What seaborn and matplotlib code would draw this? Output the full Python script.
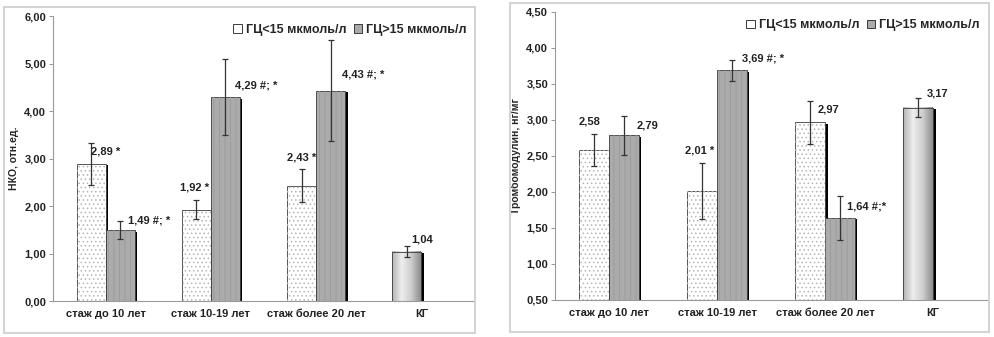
import numpy as np
import pandas as pd
import seaborn as sns
import matplotlib.pyplot as plt
import matplotlib.patheffects as pe
from matplotlib.patches import Rectangle, Patch
from matplotlib.ticker import FuncFormatter, MultipleLocator
from matplotlib.colors import LinearSegmentedColormap

categories = ["стаж до 10 лет", "стаж 10-19 лет", "стаж более 20 лет", "КГ"]
groups = ["ГЦ<15 мкмоль/л", "ГЦ>15 мкмоль/л"]

# НКО, отн.ед.
nko_low = [2.89, 1.92, 2.43, 1.04]
nko_high = [1.49, 4.29, 4.43]
nko_low_err = [0.44, 0.20, 0.34, 0.12]
nko_high_err = [0.19, 0.80, 1.06]
nko_low_labels = ["2,89 *", "1,92 *", "2,43 *", "1,04"]
nko_high_labels = ["1,49 #; *", "4,29 #; *", "4,43 #; *"]

# Тромбомодулин, нг/мг
tm_low = [2.58, 2.01, 2.97, 3.17]
tm_high = [2.79, 3.69, 1.64]
tm_low_err = [0.22, 0.39, 0.30, 0.13]
tm_high_err = [0.27, 0.15, 0.30]
tm_low_labels = ["2,58", "2,01 *", "2,97", "3,17"]
tm_high_labels = ["2,79", "3,69 #; *", "1,64 #;*"]

# label placement relative to bar centre / value: (dx, dy, ha)
nko_low_pos = [(0.0, 0.25, "left"), (-0.02, 0.46, "center"), (0.0, 0.60, "center"), (0.14, 0.26, "center")]
nko_high_pos = [(0.075, 0.21, "left"), (0.09, 0.24, "left"), (0.11, 0.33, "left")]
tm_low_pos = [(-0.04, 0.40, "center"), (-0.02, 0.57, "center"), (0.07, 0.18, "left"), (0.08, 0.20, "left")]
tm_high_pos = [(0.12, 0.14, "left"), (0.09, 0.17, "left"), (0.07, 0.16, "left")]

sns.set_theme(style="white")
plt.rcParams["font.family"] = ["Liberation Sans", "DejaVu Sans"]
plt.rcParams["font.weight"] = "bold"
plt.rcParams["hatch.linewidth"] = 0.6

GRAY = "#ababab"
EDGE = "#3a3a3a"
kg_cmap = LinearSegmentedColormap.from_list("kg", ["#b4b4b4", "#eeeeee", "#cdcdcd", "#8e8e8e"])
shadow = [pe.SimplePatchShadow(offset=(1.8, -1.0), shadow_rgbFace="black", alpha=1.0), pe.Normal()]


def draw_panel(ax, low, high, low_err, high_err, low_labels, high_labels,
               low_pos, high_pos, ylim, step, ylabel):
    df = pd.DataFrame({
        "cat": categories + categories[:len(high)],
        "grp": [groups[0]] * len(low) + [groups[1]] * len(high),
        "val": low + high,
    })
    sns.barplot(data=df, x="cat", y="val", hue="grp", order=categories, hue_order=groups,
                width=0.55, gap=0, errorbar=None, legend=False, ax=ax, zorder=2)
    low_bars, high_bars = ax.containers[0], ax.containers[1]

    for i, p in enumerate(low_bars):
        p.set_edgecolor(EDGE)
        p.set_linewidth(0.6)
        p.set_path_effects(shadow)
        x0, y0, w, h = p.get_x(), p.get_y(), p.get_width(), p.get_height()
        if categories[i] == "КГ":
            p.set_facecolor("white")
            im = ax.imshow(np.linspace(0, 1, 64)[None, :], cmap=kg_cmap, aspect="auto",
                           extent=[x0, x0 + w, max(y0, ylim[0]), y0 + h], zorder=2.05)
            ax.add_patch(Rectangle((x0, y0), w, h, facecolor="none", edgecolor=EDGE,
                                   linewidth=0.6, zorder=2.2))
        else:
            p.set_facecolor("white")
            ax.add_patch(Rectangle((x0, y0), w, h, facecolor="none", edgecolor="#b5b5b5",
                                   hatch="....", linewidth=0, zorder=2.2))
    for p in high_bars:
        p.set_facecolor(GRAY)
        p.set_edgecolor(EDGE)
        p.set_linewidth(0.6)
        p.set_path_effects(shadow)
        ax.add_patch(Rectangle((p.get_x(), p.get_y()), p.get_width(), p.get_height(),
                               facecolor="none", edgecolor="#9a9a9a", hatch="|||",
                               linewidth=0, zorder=2.2))

    for bars, vals, errs, labels, pos in [(low_bars, low, low_err, low_labels, low_pos),
                                          (high_bars, high, high_err, high_labels, high_pos)]:
        xc = [p.get_x() + p.get_width() / 2 for p in bars]
        ax.errorbar(xc, vals, yerr=errs, fmt="none", ecolor="#333333", elinewidth=0.9,
                    capsize=2.5, capthick=0.9, zorder=4)
        for x, v, lab, (dx, dy, ha) in zip(xc, vals, labels, pos):
            ax.text(x + dx, v + dy, lab, ha=ha, va="center", fontsize=8,
                    fontweight="bold", color="#222222", zorder=5)

    ax.set_xlim(-0.5, 3.5)
    ax.set_ylim(*ylim)
    ax.yaxis.set_major_locator(MultipleLocator(step))
    ax.yaxis.set_major_formatter(FuncFormatter(lambda v, _: f"{v:.2f}".replace(".", ",")))
    ax.set_xlabel("")
    ax.set_ylabel(ylabel, fontsize=7.5, fontweight="bold", labelpad=4)
    ax.tick_params(axis="y", labelsize=8, length=3, width=0.6, color="#888888", pad=2,
                   left=True, labelcolor="#222222")
    ax.tick_params(axis="x", labelsize=8, length=0, pad=6, labelcolor="#222222")
    for t in ax.get_xticklabels() + ax.get_yticklabels():
        t.set_fontweight("bold")
    for s in ["top", "right"]:
        ax.spines[s].set_visible(False)
    for s in ["left", "bottom"]:
        ax.spines[s].set_color("#9a9a9a")
        ax.spines[s].set_linewidth(0.8)

    handles = [Patch(facecolor="white", edgecolor=EDGE, linewidth=0.7),
               Patch(facecolor=GRAY, edgecolor=EDGE, linewidth=0.7)]
    ax.legend(handles, groups, loc="upper right", bbox_to_anchor=(1.0, 1.0), ncol=2,
              frameon=False, handlelength=0.7, handleheight=0.7,
              handletextpad=0.3, columnspacing=0.6, borderaxespad=0.2,
              prop={"weight": "bold", "size": 9})


fig = plt.figure(figsize=(9.94, 3.37), dpi=100)
ax1 = fig.add_axes([0.0533, 0.1068, 0.4236, 0.8457])
ax2 = fig.add_axes([0.5584, 0.1098, 0.4346, 0.8546])

draw_panel(ax1, nko_low, nko_high, nko_low_err, nko_high_err, nko_low_labels, nko_high_labels,
           nko_low_pos, nko_high_pos, (0, 6), 1.0, "НКО, отн.ед.")
draw_panel(ax2, tm_low, tm_high, tm_low_err, tm_high_err, tm_low_labels, tm_high_labels,
           tm_low_pos, tm_high_pos, (0.5, 4.5), 0.5, "Тромбомодулин, нг/мг")

# panel frames
fig.patches.append(Rectangle((0.004, 0.012), 0.474, 0.968, transform=fig.transFigure,
                             facecolor="none", edgecolor="#d4d4d4", linewidth=1.5))
fig.patches.append(Rectangle((0.513, 0.015), 0.482, 0.975, transform=fig.transFigure,
                             facecolor="none", edgecolor="#d4d4d4", linewidth=1.5))

fig.savefig("out.png", dpi=100)
